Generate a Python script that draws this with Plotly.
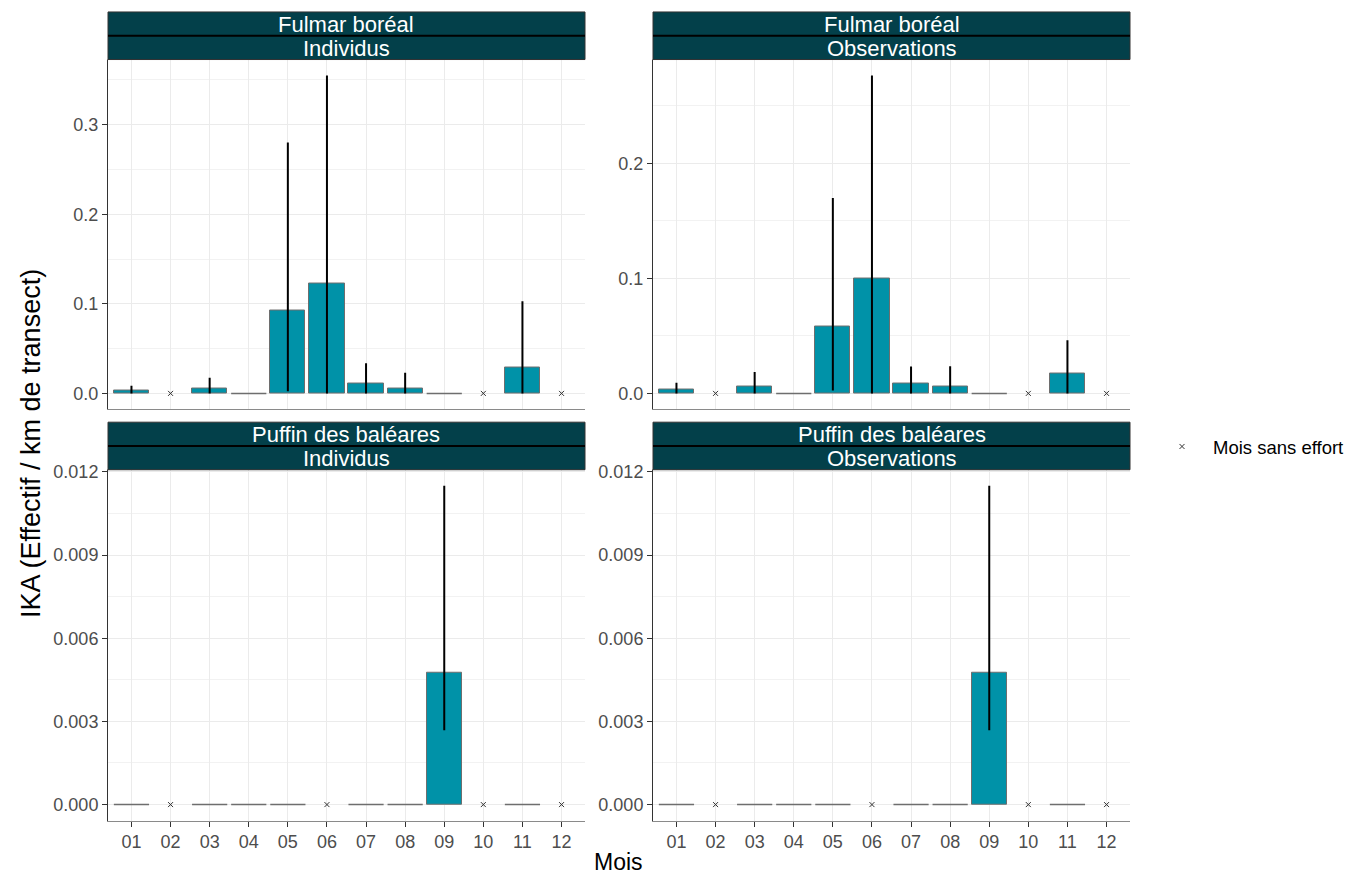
import plotly.graph_objects as go

W, H = 1355, 877

months = ['01', '02', '03', '04', '05', '06', '07', '08', '09', '10', '11', '12']
month_num = list(range(1, 13))

# None = month without effort
fulmar_ind_val = [0.0030, None, 0.0055, 0.0, 0.0930, 0.1228, 0.0114, 0.0055, 0.0, None, 0.0294, None]
fulmar_ind_low = [0.0, None, 0.0, 0.0, 0.0025, 0.0, 0.0, 0.0, 0.0, None, 0.0, None]
fulmar_ind_up = [0.0085, None, 0.0176, 0.0, 0.2800, 0.3550, 0.0338, 0.0231, 0.0, None, 0.1029, None]

fulmar_obs_val = [0.0038, None, 0.0057, 0.0, 0.0578, 0.1000, 0.0089, 0.0060, 0.0, None, 0.0171, None]
fulmar_obs_low = [0.0, None, 0.0, 0.0, 0.0026, 0.0, 0.0, 0.0, 0.0, None, 0.0, None]
fulmar_obs_up = [0.0092, None, 0.0186, 0.0, 0.1700, 0.2765, 0.0235, 0.0237, 0.0, None, 0.0463, None]

puffin_ind_val = [0.0, None, 0.0, 0.0, 0.0, None, 0.0, 0.0, 0.00476, None, 0.0, None]
puffin_ind_low = [0.0, None, 0.0, 0.0, 0.0, None, 0.0, 0.0, 0.00268, None, 0.0, None]
puffin_ind_up = [0.0, None, 0.0, 0.0, 0.0, None, 0.0, 0.0, 0.0115, None, 0.0, None]

puffin_obs_val = [0.0, None, 0.0, 0.0, 0.0, None, 0.0, 0.0, 0.00476, None, 0.0, None]
puffin_obs_low = [0.0, None, 0.0, 0.0, 0.0, None, 0.0, 0.0, 0.00268, None, 0.0, None]
puffin_obs_up = [0.0, None, 0.0, 0.0, 0.0, None, 0.0, 0.0, 0.0115, None, 0.0, None]

species_labels = ['Fulmar boréal', 'Fulmar boréal', 'Puffin des baléares', 'Puffin des baléares']
type_labels = ['Individus', 'Observations', 'Individus', 'Observations']
y_dticks = [0.1, 0.1, 0.003, 0.003]
y_formats = ['.1f', '.1f', '.3f', '.3f']

panel_data = [
    (fulmar_ind_val, fulmar_ind_low, fulmar_ind_up),
    (fulmar_obs_val, fulmar_obs_low, fulmar_obs_up),
    (puffin_ind_val, puffin_ind_low, puffin_ind_up),
    (puffin_obs_val, puffin_obs_low, puffin_obs_up),
]

BAR = '#0092A8'
STRIP = '#03404A'
GRID = '#EBEBEB'
TICKC = '#4D4D4D'
FONT = 'Liberation Sans, Arial, sans-serif'

# panel geometry (pixels)
xpx = [(108, 585), (653, 1130), (108, 585), (653, 1130)]
ypx = [(52, 405), (52, 405), (466, 820), (466, 820)]
strip_px = [(4, 52), (4, 52), (418, 466), (418, 466)]


def py(p):
    return 1 - p / H


fig = go.Figure()
layout_axes = {}
shapes = []
annotations = []

for i, (vals, lows, ups) in enumerate(panel_data):
    n = i + 1
    xa = 'x' if n == 1 else f'x{n}'
    ya = 'y' if n == 1 else f'y{n}'

    bx, by, eplus, eminus = [], [], [], []
    zx, zy = [], []
    nx, ny = [], []
    for m, v, lo, up in zip(month_num, vals, lows, ups):
        if v is None:
            nx.append(m)
            ny.append(0)
        elif v > 0:
            bx.append(m)
            by.append(v)
            eplus.append(up - v)
            eminus.append(v - lo)
        else:
            zx += [m - 0.45, m + 0.45, None]
            zy += [v, v, None]

    fig.add_trace(go.Bar(
        x=bx, y=by, width=0.9, xaxis=xa, yaxis=ya, showlegend=False,
        marker=dict(color=BAR, line=dict(color='#6E6E6E', width=1)),
        error_y=dict(type='data', symmetric=False, array=eplus, arrayminus=eminus,
                     width=0, thickness=2, color='black'),
        hoverinfo='skip'))
    fig.add_trace(go.Scatter(
        x=zx, y=zy, mode='lines', xaxis=xa, yaxis=ya, showlegend=False,
        line=dict(color='#6E6E6E', width=1.5), hoverinfo='skip'))
    fig.add_trace(go.Scatter(
        x=nx, y=ny, mode='markers', xaxis=xa, yaxis=ya,
        name='Mois sans effort', showlegend=(i == 0),
        marker=dict(symbol='x-thin', size=5, line=dict(width=1, color='#333333'), color='#333333'),
        hoverinfo='skip'))

    ymax = max(u for u in ups if u is not None)
    yr = [-0.05 * ymax, ymax * 1.05]
    bottom = i >= 2
    layout_axes['xaxis' if n == 1 else f'xaxis{n}'] = dict(
        domain=[xpx[i][0] / W, xpx[i][1] / W], anchor=ya,
        range=[0.4, 12.6], tickmode='array', tickvals=month_num, ticktext=months,
        showgrid=True, gridcolor=GRID, gridwidth=1.3, zeroline=False,
        showline=True, linecolor='#8A8A8A', linewidth=1, mirror=True,
        ticks='outside' if bottom else '', ticklen=5, tickcolor='#333333', tickwidth=1.3,
        showticklabels=bottom, tickfont=dict(size=18, color=TICKC, family=FONT))
    layout_axes['yaxis' if n == 1 else f'yaxis{n}'] = dict(
        domain=[py(ypx[i][1]), py(ypx[i][0])], anchor=xa,
        range=yr, tick0=0, dtick=y_dticks[i], tickformat=y_formats[i],
        showgrid=True, gridcolor=GRID, gridwidth=1.3, zeroline=False,
        minor=dict(dtick=y_dticks[i] / 2, tick0=0, showgrid=True, gridcolor='#F2F2F2', gridwidth=1),
        showline=True, linecolor='#333333', linewidth=1,
        ticks='outside', ticklen=5, tickcolor='#333333', tickwidth=1.3,
        tickfont=dict(size=18, color=TICKC, family=FONT))

    # strips
    x0, x1 = xpx[i][0] / W, xpx[i][1] / W
    s0, s1 = strip_px[i]
    mid = (s0 + s1) / 2
    shapes.append(dict(type='rect', xref='paper', yref='paper', x0=x0, x1=x1,
                       y0=py(s1), y1=py(s0), fillcolor=STRIP, line=dict(color='#333333', width=1), layer='above'))
    shapes.append(dict(type='line', xref='paper', yref='paper', x0=x0, x1=x1,
                       y0=py(mid), y1=py(mid), line=dict(color='black', width=2), layer='above'))
    annotations.append(dict(text=species_labels[i], xref='paper', yref='paper', x=(x0 + x1) / 2,
                            y=py((s0 + mid) / 2 + 0.5), showarrow=False, xanchor='center', yanchor='middle',
                            font=dict(size=22, color='white', family=FONT)))
    annotations.append(dict(text=type_labels[i], xref='paper', yref='paper', x=(x0 + x1) / 2,
                            y=py((mid + s1) / 2 + 0.5), showarrow=False, xanchor='center', yanchor='middle',
                            font=dict(size=22, color='white', family=FONT)))

annotations.append(dict(text='IKA (Effectif / km de transect)', xref='paper', yref='paper',
                        x=31 / W, y=py(440), textangle=-90, showarrow=False,
                        xanchor='center', yanchor='middle', font=dict(size=27, color='black', family=FONT)))
annotations.append(dict(text='Mois', xref='paper', yref='paper',
                        x=618 / W, y=0, showarrow=False,
                        xanchor='center', yanchor='bottom', font=dict(size=23, color='black', family=FONT)))

fig.update_layout(
    width=W, height=H, margin=dict(l=0, r=0, t=0, b=0),
    paper_bgcolor='white', plot_bgcolor='white',
    bargap=0, shapes=shapes, annotations=annotations,
    legend=dict(x=1151 / W, y=py(443), xanchor='left', yanchor='middle',
                font=dict(size=18.5, color='black', family=FONT), bgcolor='rgba(0,0,0,0)',
                itemwidth=52),
    **layout_axes)

fig.write_html('out.html', config={'displayModeBar': False},
               post_script="document.body.style.margin='0';")
